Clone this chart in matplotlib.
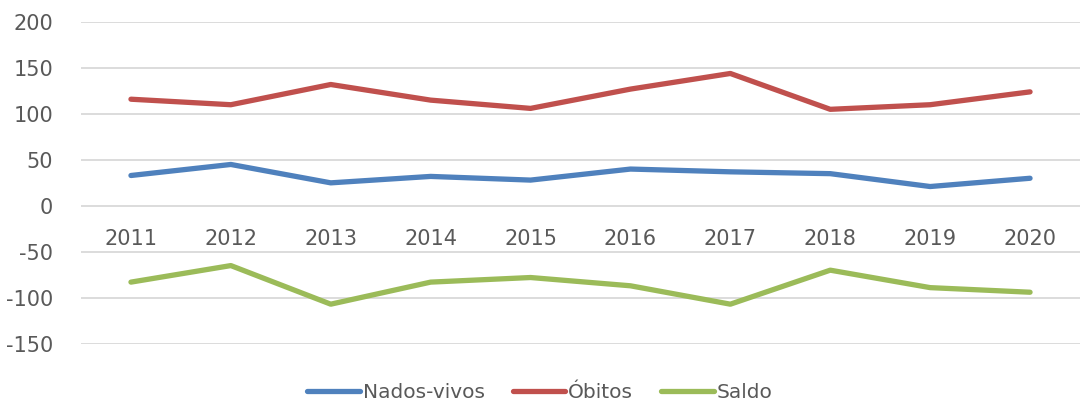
import matplotlib.pyplot as plt
import numpy as np

# data
years = ['2011', '2012', '2013', '2014', '2015', '2016', '2017', '2018', '2019', '2020']
nados_vivos = [33, 45, 25, 32, 28, 40, 37, 35, 21, 30]
obitos = [116, 110, 132, 115, 106, 127, 144, 105, 110, 124]
saldo = [-83, -65, -107, -83, -78, -87, -107, -70, -89, -94]
y_ticks = [-150, -100, -50, 0, 50, 100, 150, 200]

text_color = '#595959'
plt.rcParams['font.family'] = 'DejaVu Sans'

fig = plt.figure(figsize=(10.8, 4.05), dpi=100)
ax = fig.add_axes([81 / 1080, 1 - 343.7 / 405, 1 - 81 / 1080, (343.7 - 22) / 405])

x = np.arange(len(years))
series = [
    ('Nados-vivos', nados_vivos, '#4f81bd'),
    ('Óbitos', obitos, '#c0504d'),
    ('Saldo', saldo, '#9bbb59'),
]
for label, values, color in series:
    ax.plot(x, values, color=color, linewidth=3.8, label=label,
            solid_capstyle='round', solid_joinstyle='round', clip_on=False)

ax.set_xlim(-0.5, len(years) - 0.5)
ax.set_ylim(-150, 200)
ax.set_yticks(y_ticks)
ax.set_yticklabels([str(v) for v in y_ticks])
ax.grid(axis='y', color='#d9d9d9', linewidth=1.3)
ax.set_axisbelow(True)

# category labels sit just under the zero line, as in Excel
ax.spines['bottom'].set_position(('data', 0))
for side in ['top', 'right', 'left', 'bottom']:
    ax.spines[side].set_visible(False)
ax.set_xticks(x)
ax.set_xticklabels(years)
ax.tick_params(axis='x', length=0, pad=17, labelsize=15, labelcolor=text_color)
ax.tick_params(axis='y', length=0, pad=20, labelsize=15, labelcolor=text_color)

leg = fig.legend(loc='center', bbox_to_anchor=(0.5, 1 - 393 / 405), ncol=3,
                 frameon=False, fontsize=14.5, handlelength=2.6,
                 handletextpad=0.15, columnspacing=1.4)
for t in leg.get_texts():
    t.set_color(text_color)

plt.savefig('out.png', dpi=100)
